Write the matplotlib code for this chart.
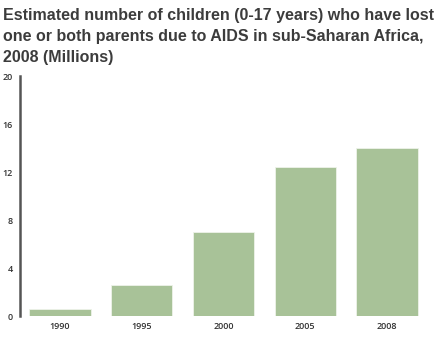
import matplotlib.pyplot as plt

years = ['1990', '1995', '2000', '2005', '2008']
orphans = [0.6, 2.6, 7.0, 12.4, 14.0]  # millions
y_ticks = [0, 4, 8, 12, 16, 20]

fig = plt.figure(figsize=(4.4, 3.44), dpi=100)
ax = fig.add_axes([0.0455, 0.080, 0.925, 0.699])

ax.bar(range(len(years)), orphans, width=0.75, color='#a8c298',
       edgecolor='#eef3ea', linewidth=0.6)

ax.set_xlim(-0.49, 4.49)
ax.set_ylim(0, 20)
ax.set_yticks(y_ticks)
ax.set_xticks(range(len(years)))
ax.set_xticklabels(years)
ax.tick_params(axis='both', length=0, labelsize=6.5, labelcolor='#333333')
ax.tick_params(axis='y', pad=5)
ax.tick_params(axis='x', pad=4)
for lab in ax.get_xticklabels() + ax.get_yticklabels():
    lab.set_family('Open Sans')
    lab.set_fontweight('semibold')

for side in ['top', 'right', 'bottom']:
    ax.spines[side].set_visible(False)
ax.spines['left'].set_color('#555555')
ax.spines['left'].set_linewidth(1.8)

fig.text(0.007, 0.976,
         'Estimated number of children (0-17 years) who have lost\n'
         'one or both parents due to AIDS in sub-Saharan Africa,\n'
         '2008 (Millions)',
         ha='left', va='top', fontsize=11.5, fontweight='bold',
         family='Liberation Sans', color='#3c3c3c', linespacing=1.5)

fig.savefig('out.png', dpi=100)
